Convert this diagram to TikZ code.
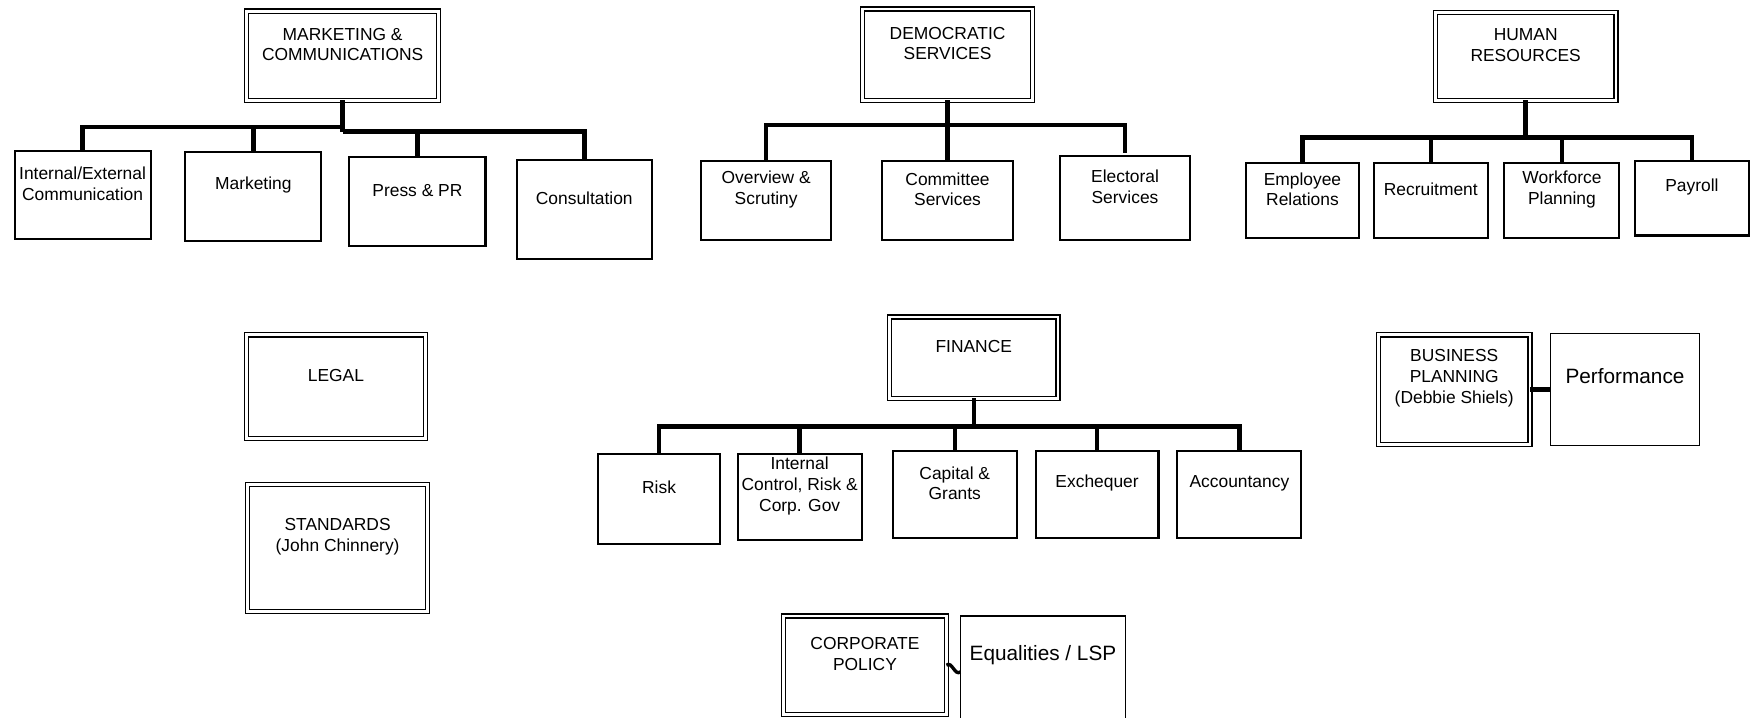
\documentclass[tikz,border=0pt]{standalone}
\usepackage{fontspec}
\setmainfont{Liberation Sans}
\tikzset{
  unit/.style 2 args={draw, line width=1.8pt, inner sep=0pt, outer sep=0pt, minimum width=#1pt, minimum height=#2pt},
  head/.style 2 args={draw, double, line width=1.2pt, double distance=2.4pt, inner sep=0pt, outer sep=0pt, minimum width=#1pt, minimum height=#2pt},
  link/.style={line width=4pt},
  every label/.style={yshift=10pt, align=center, font=\fontsize{15.6}{18.5}\selectfont},
  bigtext/.style={font=\fontsize{18.6}{22}\selectfont}
}
\begin{document}
\begin{tikzpicture} [x=1pt,y=-1pt]
  \useasboundingbox (0,0) rectangle (1568,643);
% top row
  \node (mkt) at (307,50) [head={172}{80}, label={center:{MARKETING \&\\COMMUNICATIONS}}] {};
  \node (iec) at (74,174.5) [unit={122}{79}, label={center:{Internal/External\\Communication}}] {};
  \node (mar) at (227,176) [unit={122}{80}, label={center:Marketing}] {};
  \node (prs) at (374,180.5) [unit={122}{79}, label={center:{Press \& PR}}] {};
  \node (con) at (523.5,187.5) [unit={121}{89}, label={center:Consultation}] {};

  \node (dem) at (849,49) [head={152}{82}, label={center:{DEMOCRATIC\\SERVICES}}] {};
  \node (ovs) at (686.5,179.5) [unit={117}{71}, label={center:{Overview \&\\Scrutiny}}] {};
  \node (com) at (849,179.5) [unit={117}{71}, label={center:{Committee\\Services}}] {};
  \node (ele) at (1008,177.5) [unit={116}{75}, label={center:{Electoral\\Services}}] {};

  \node (hr) at (1367,50.5) [head={162}{79}, label={center:{HUMAN\\RESOURCES}}] {};
  \node (emp) at (1167,179.5) [unit={102}{67}, label={center:{Employee\\Relations}}] {};
  \node (rec) at (1282,179.5) [unit={102}{67}, label={center:Recruitment}] {};
  \node (wfp) at (1399.5,179.5) [unit={103}{67}, label={center:{Workforce\\Planning}}] {};
  \node (pay) at (1516,177.5) [unit={102}{67}, label={center:Payroll}] {};

% middle
  \node (legal) at (301,346.5) [head={160}{93}, label={center:LEGAL}] {};
  \node (std) at (302.5,491) [head={161}{114}, label={center:{STANDARDS\\(John Chinnery)}}] {};

  \node (fin) at (872.5,320.5) [head={151}{73}, label={center:FINANCE}] {};
  \node (risk) at (590.5,447) [unit={109}{80}, label={center:Risk}] {};
  \node (icr) at (716.5,445.5) [unit={111}{77}, label={center:{Internal\\Control, Risk \&\\Corp. Gov}}] {};
  \node (cap) at (855.5,443) [unit={111}{78}, label={center:{Capital \&\\Grants}}] {};
  \node (exq) at (983,443) [unit={110}{78}, label={center:Exchequer}] {};
  \node (acc) at (1110.5,443) [unit={111}{78}, label={center:Accountancy}] {};

  \node (bp) at (1303,349) [head={136}{98}, label={center:{BUSINESS\\PLANNING\\(Debbie Shiels)}}] {};
  \node (perf) at (1456,349) [unit={133}{101}, line width=0.9pt, label={[bigtext, yshift=2pt]center:Performance}] {};

% bottom
  \node (cp) at (775,596) [head={146}{88}, label={center:{CORPORATE\\POLICY}}] {};
  \node (eq) at (934.5,602) [unit={148}{100}, line width=1.5pt, label={[bigtext, yshift=5pt]center:{Equalities / LSP}}] {};

% links
  \draw [link] (mkt.south) -- (mkt.south |- 0,118);
  \draw [link] (iec.north) |- (mkt.south |- 0,114);
  \draw [link] (mar.north) -- (mar.north |- 0,114);
  \draw [link] (con.north) |- (mkt.south |- 0,118);
  \draw [link] (prs.north) -- (prs.north |- 0,118);

  \draw [link] (dem.south) -- (com.north);
  \draw [link] (ovs.north) |- (ele.north |- 0,112) -- ([yshift=3pt]ele.north);

  \draw [link] (hr.south) -- (hr.south |- 0,123);
  \draw [link] (emp.north) |- (pay.north |- 0,123) -- (pay.north);
  \draw [link] (rec.north) -- (rec.north |- 0,123);
  \draw [link] (wfp.north) -- (wfp.north |- 0,123);

  \draw [link] (fin.south) -- (fin.south |- 0,382);
  \draw [link] (risk.north) |- (acc.north |- 0,382) -- (acc.north);
  \draw [link] (icr.north) -- (icr.north |- 0,382);
  \draw [link] (cap.north) -- (cap.north |- 0,382);
  \draw [link] (exq.north) -- (exq.north |- 0,382);

  \draw [link] (bp.east) -- (perf.west);
  \draw [line width=3pt] (cp.east) .. controls +(5,-4) and +(-5,4) .. (eq.west);
\end{tikzpicture}
\end{document}
